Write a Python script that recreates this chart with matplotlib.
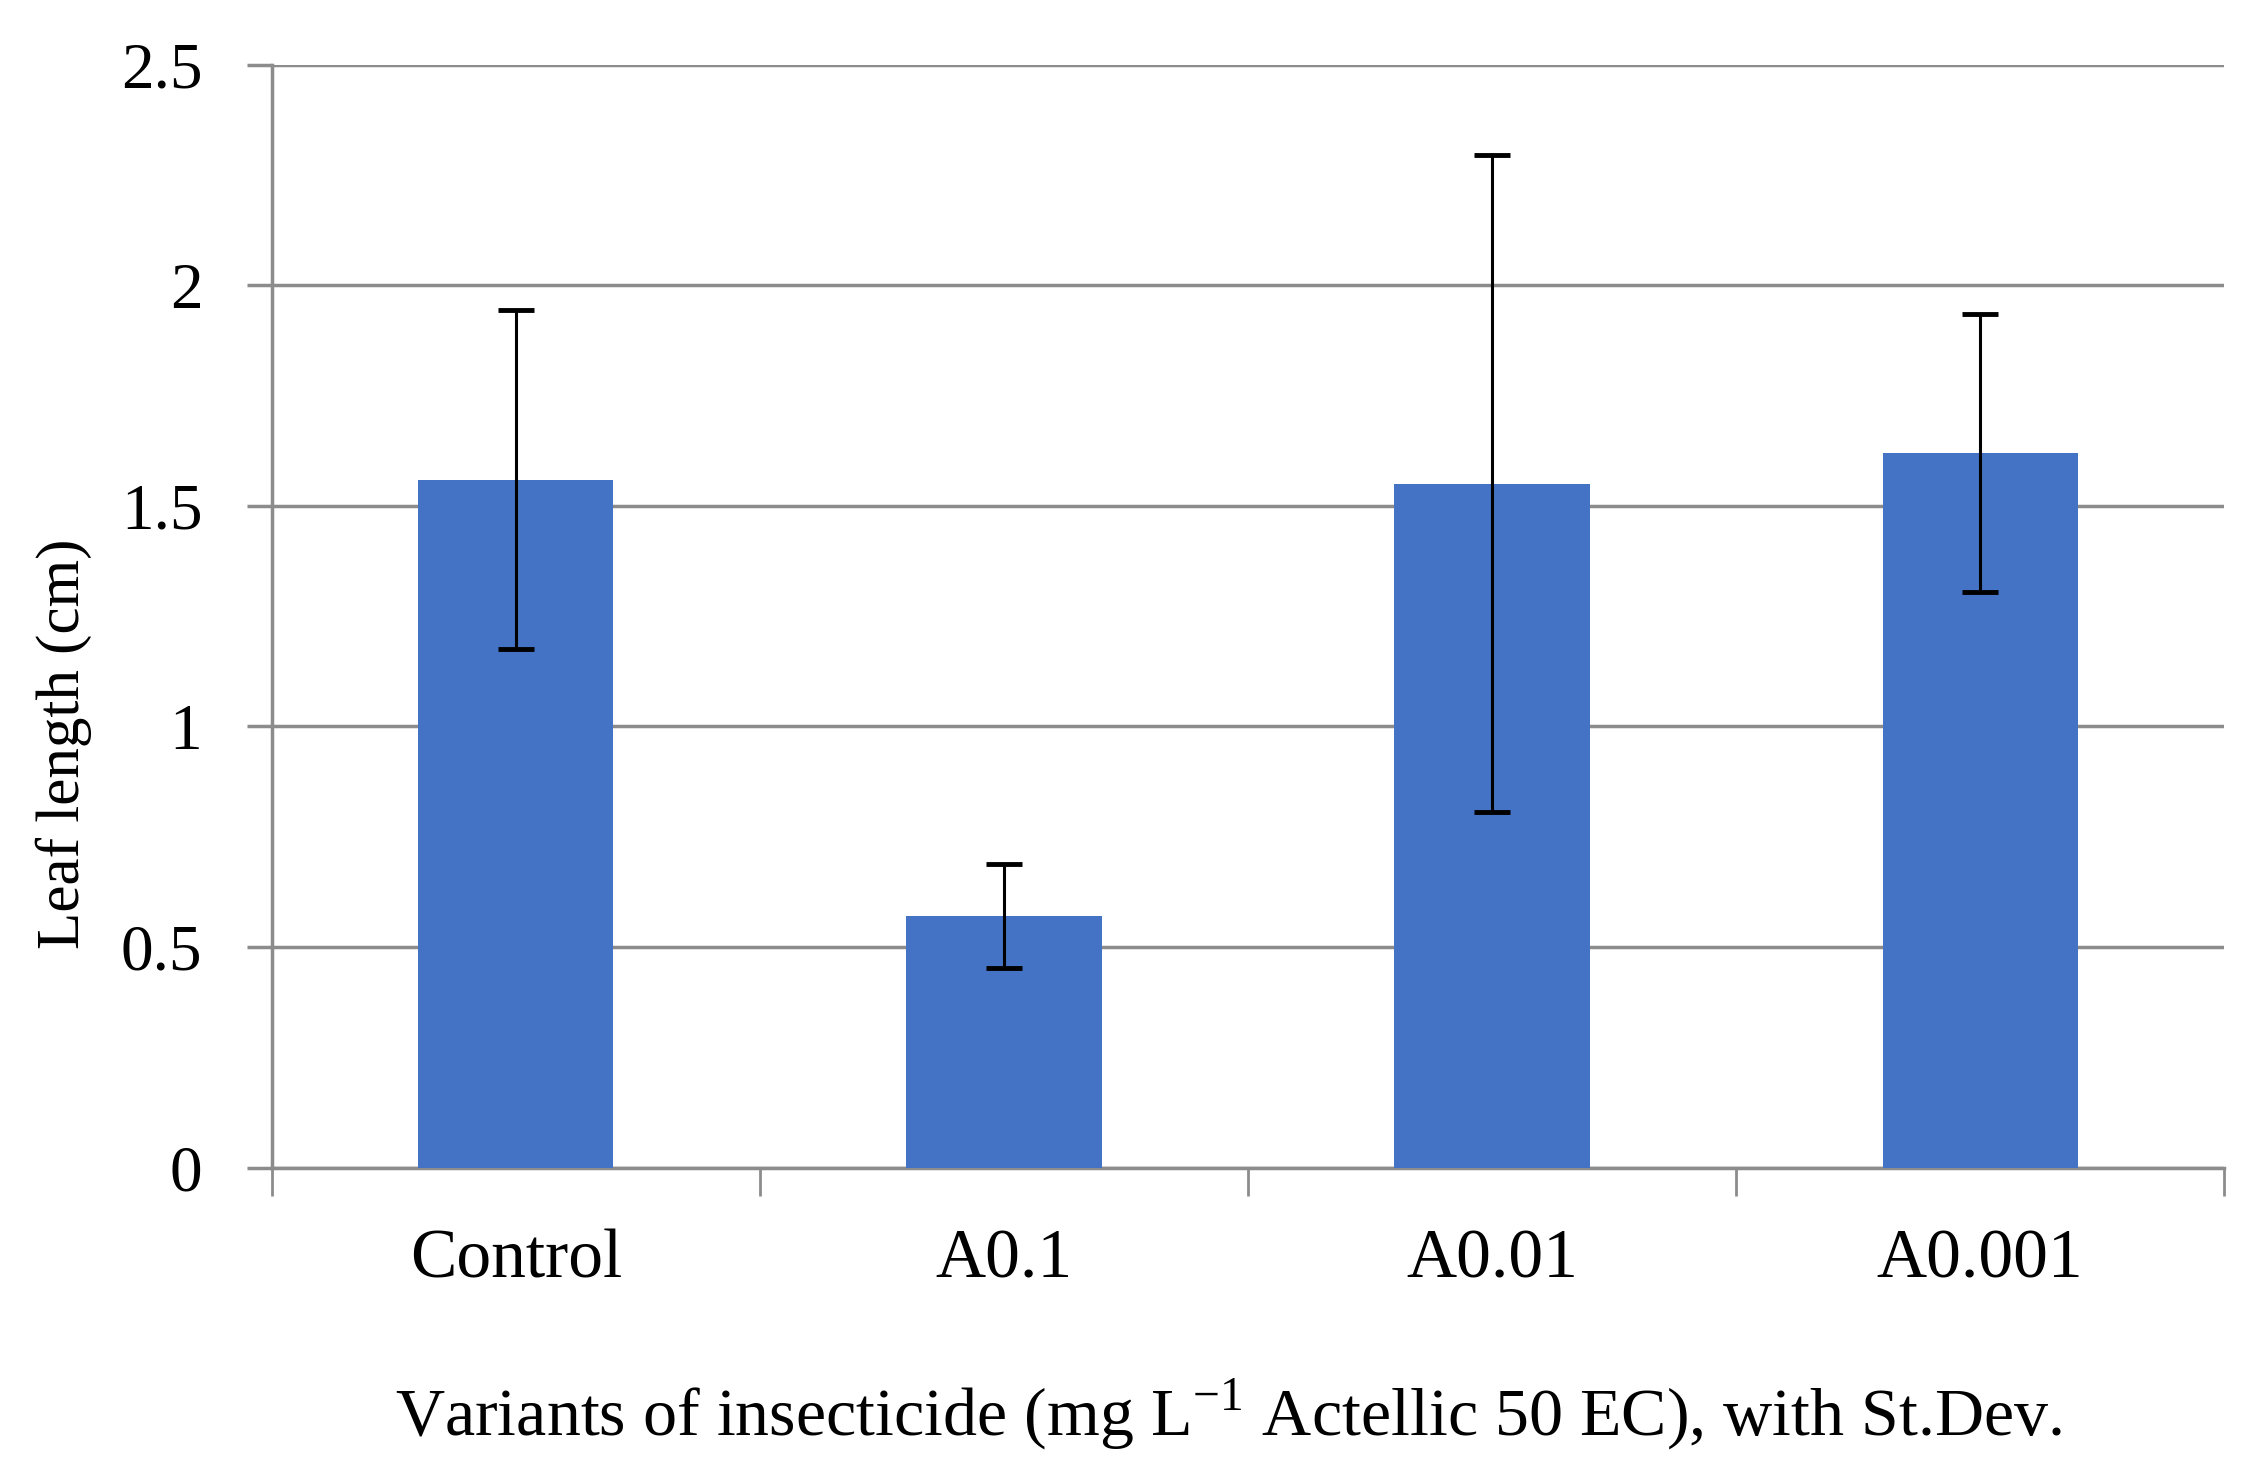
import numpy as np
import matplotlib
matplotlib.use('Agg')
import matplotlib.pyplot as plt

plt.rcParams['font.family'] = ['Liberation Serif', 'DejaVu Serif']
plt.rcParams['mathtext.fontset'] = 'custom'
plt.rcParams['mathtext.rm'] = 'Liberation Serif'

# data
categories = ['Control', 'A0.1', 'A0.01', 'A0.001']
means = [1.56, 0.57, 1.55, 1.62]
stdevs = [0.385, 0.118, 0.745, 0.315]
yticks = [0, 0.5, 1, 1.5, 2, 2.5]
ytick_labels = ['0', '0.5', '1', '1.5', '2', '2.5']

grid_col = '#8c8c8c'
bar_col = '#4472C4'

fig = plt.figure(figsize=(22.65, 14.76), dpi=100)
ax = fig.add_axes([0.120, 0.209, 0.862, 0.747])

x = np.arange(len(categories))
ax.bar(x, means, width=0.4, color=bar_col, zorder=3)
ax.errorbar(x, means, yerr=stdevs, fmt='none', ecolor='black',
            elinewidth=2.2, capsize=13, capthick=3.5, zorder=4)

ax.set_xlim(-0.5, len(categories) - 0.5)
ax.set_ylim(0, 2.5)
ax.set_yticks(yticks)
ax.set_yticklabels(ytick_labels)
ax.yaxis.grid(True, color=grid_col, linewidth=2.5, zorder=0)

# category boundaries as major ticks, names on minor ticks
ax.set_xticks(np.arange(len(categories) + 1) - 0.5)
ax.set_xticklabels([])
ax.set_xticks(x, minor=True)
ax.set_xticklabels(categories, minor=True)
ax.tick_params(axis='x', which='major', length=20, width=2, color=grid_col, direction='out')
ax.tick_params(axis='x', which='minor', length=0, pad=44, labelsize=50)
ax.tick_params(axis='y', length=18, width=2.5, color=grid_col, pad=32, labelsize=47)

for s in ['top', 'right']:
    ax.spines[s].set_visible(False)
for s in ['left', 'bottom']:
    ax.spines[s].set_color(grid_col)
    ax.spines[s].set_linewidth(2.5)

ax.set_xlabel(r'Variants of insecticide (mg L$^{-1}$ Actellic 50 EC), with St.Dev.',
              fontsize=49)
ax.xaxis.set_label_coords(0.49, -0.19)
ax.set_ylabel('Leaf length (cm)', fontsize=44)
ax.yaxis.set_label_coords(-0.092, 0.384)

fig.savefig('out.png', dpi=100)
